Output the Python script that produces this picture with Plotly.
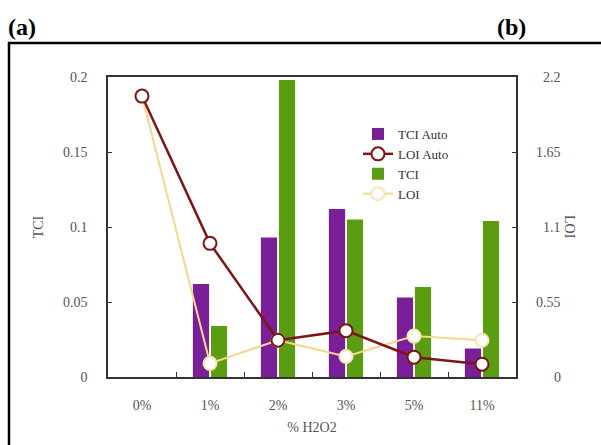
import plotly.graph_objects as go

categories = ["0%", "1%", "2%", "3%", "5%", "11%"]
tci_auto = [0.0, 0.062, 0.093, 0.112, 0.053, 0.019]
tci = [0.0, 0.034, 0.198, 0.105, 0.060, 0.104]
loi_auto = [2.06, 0.98, 0.27, 0.34, 0.145, 0.094]
loi = [2.06, 0.10, 0.27, 0.15, 0.30, 0.27]
tci_ticks = [0, 0.05, 0.1, 0.15, 0.2]
tci_ticktext = ["0", "0.05", "0.1", "0.15", "0.2"]
loi_ticks = [0, 0.55, 1.1, 1.65, 2.2]
loi_ticktext = ["0", "0.55", "1.1", "1.65", "2.2"]

W, H = 601, 445
L, R, T, B = 108, 516, 77, 377
FONT = "Liberation Serif"
GREY = "#555555"

def px_x(p):
    return (p - L) / (R - L)

def px_y(p):
    return (B - p) / (B - T)

fig = go.Figure()
fig.add_trace(go.Bar(x=categories, y=tci_auto, name="TCI Auto",
                     marker=dict(color="#7b1f98", line=dict(width=0)),
                     legendrank=1))
fig.add_trace(go.Bar(x=categories, y=tci, name="TCI",
                     marker=dict(color="#5a9c12", line=dict(width=0)),
                     legendrank=3))
fig.add_trace(go.Scatter(x=categories, y=loi, name="LOI", yaxis="y2",
                         mode="lines+markers",
                         line=dict(color="#f3d78e", width=2),
                         marker=dict(size=13, color="white", line=dict(color="#f6e7b8", width=2)),
                         legendrank=4))
fig.add_trace(go.Scatter(x=categories, y=loi_auto, name="LOI Auto", yaxis="y2",
                         mode="lines+markers",
                         line=dict(color="#7e1414", width=2.5),
                         marker=dict(size=13, color="white", line=dict(color="#7e1414", width=2)),
                         legendrank=2))

fig.update_layout(
    width=W, height=H,
    margin=dict(l=L, r=W - R, t=T, b=H - B, pad=0, autoexpand=False),
    paper_bgcolor="white", plot_bgcolor="white",
    font=dict(family=FONT, size=13, color=GREY),
    barmode="group", bargap=0.47, bargroupgap=0.1,
    showlegend=True,
    legend=dict(x=px_x(358), y=px_y(119), xanchor="left", yanchor="top",
                bgcolor="rgba(0,0,0,0)", font=dict(family=FONT, size=13, color="#333333"),
                itemwidth=30, tracegroupgap=0, traceorder="normal"),
    xaxis=dict(type="category", range=[-0.5, 5.5], showline=True, mirror=True,
               linecolor="#333333", linewidth=1.5, ticks="inside", tickson="boundaries",
               ticklen=5, tickcolor="#333333", showgrid=False, automargin=False,
               ticklabelstandoff=14,
               tickfont=dict(family=FONT, size=14, color=GREY),
               title=dict(text="% H2O2", font=dict(family=FONT, size=14, color=GREY), standoff=11)),
    yaxis=dict(range=[0, 0.2], tickvals=tci_ticks, ticktext=tci_ticktext, showline=True,
               linecolor="#333333", linewidth=1.5, ticks="inside", ticklen=4,
               tickcolor="#333333", showgrid=False, zeroline=False, automargin=False,
               ticklabelstandoff=16,
               tickfont=dict(family=FONT, size=14, color=GREY),
               title=dict(text="TCI", font=dict(family=FONT, size=14, color=GREY), standoff=16)),
    yaxis2=dict(range=[0, 2.2], overlaying="y", side="right", tickvals=loi_ticks,
                showticklabels=False, showline=True, linecolor="#333333", linewidth=1.5,
                ticks="inside", ticklen=4, tickcolor="#333333", showgrid=False, zeroline=False,
                automargin=False),
)

# right axis tick labels (right-aligned like the reference)
for v, t in zip(loi_ticks, loi_ticktext):
    fig.add_annotation(x=px_x(563), y=v, xref="paper", yref="y2", text=t, showarrow=False,
                       xanchor="right", yanchor="middle",
                       font=dict(family=FONT, size=14, color=GREY))

fig.add_annotation(x=px_x(570), y=px_y(227), xref="paper", yref="paper", text="LOI",
                   textangle=90, showarrow=False, xanchor="center", yanchor="middle",
                   font=dict(family=FONT, size=14, color=GREY))

fig.add_annotation(x=px_x(6), y=px_y(27), xref="paper", yref="paper", text="<b>(a)</b>",
                   showarrow=False, xanchor="left", yanchor="middle",
                   font=dict(family=FONT, size=24, color="black"))
fig.add_annotation(x=px_x(495), y=px_y(27), xref="paper", yref="paper", text="<b>(b)</b>",
                   showarrow=False, xanchor="left", yanchor="middle",
                   font=dict(family=FONT, size=24, color="black"))

fig.add_shape(type="rect", xref="paper", yref="paper",
              x0=px_x(9), x1=px_x(620), y0=px_y(460), y1=px_y(43),
              line=dict(color="black", width=2.5), fillcolor="rgba(0,0,0,0)", layer="below")

fig.write_html("out.html")
